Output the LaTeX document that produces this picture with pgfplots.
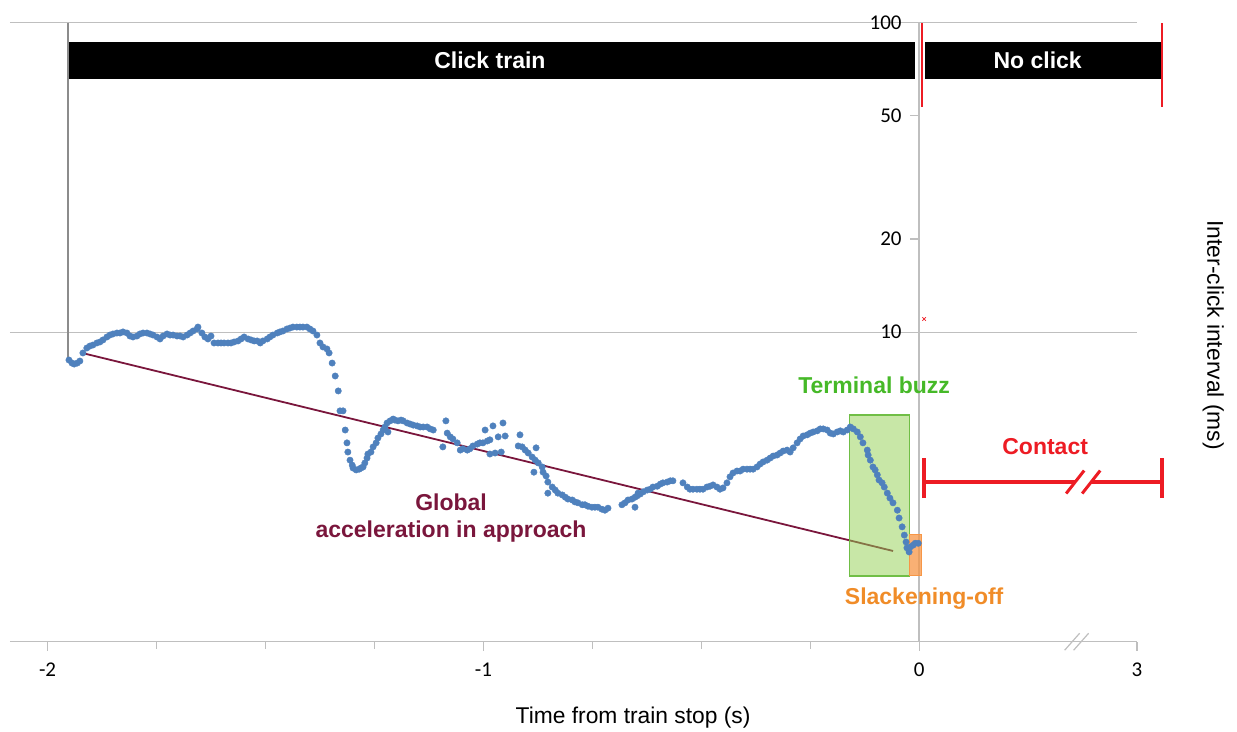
\documentclass[border=0pt]{standalone}
\usepackage{pgfplots}
\pgfplotsset{compat=1.18}
\usepackage{fontspec}
\setmainfont{Liberation Sans}
\newfontfamily\carlito{Carlito}
\definecolor{dotblue}{RGB}{79,129,189}
\definecolor{gridgray}{RGB}{191,191,191}
\definecolor{linegray}{RGB}{140,140,140}
\definecolor{cred}{RGB}{237,28,36}
\definecolor{maroon}{RGB}{122,22,60}
\definecolor{bgreen}{RGB}{146,208,80}
\definecolor{bgreenline}{RGB}{112,190,70}
\definecolor{tgreen}{RGB}{70,185,40}
\definecolor{borange}{RGB}{247,150,70}
\definecolor{torange}{RGB}{240,140,40}
\begin{document}
\begin{tikzpicture}
\path[use as bounding box] (-10pt,-89.3pt) rectangle (1227pt,641.7pt);
\begin{axis}[
  scale only axis, width=1127pt, height=619pt,
  at={(0pt,0pt)}, anchor=south west,
  xmin=-2.0863, xmax=0.5, ymin=1, ymax=100,
  ymode=log, clip=false,
  axis x line=bottom, axis y line=center,
  axis line style={-, draw=gridgray, line width=1.3pt},
  xtick={-2,-1,0,0.5}, xticklabels={-2,-1,0,3},
  minor xtick={-1.75,-1.5,-1.25,-0.75,-0.5,-0.25},
  ytick={1,10,100}, yticklabels={1,10,100},
  extra y ticks={20,50}, extra y tick labels={20,50},
  extra y tick style={grid=none},
  yminorticks=false,
  ymajorgrids, major grid style={draw=gridgray, line width=1.3pt},
  tick align=outside,
  major tick length=9pt, minor tick length=7pt,
  tick style={draw=gridgray, line width=1.1pt},
  tick label style={font=\carlito\fontsize{21}{25}\selectfont, text=black},
  xticklabel style={yshift=-9pt},
  yticklabel style={xshift=-5pt},
]
% black bars
\fill[black] (axis cs:-1.951,65.8) rectangle (axis cs:-0.0092,86.6);
\fill[black] (axis cs:0.0138,65.8) rectangle (axis cs:0.5577,86.6);
\draw[cred, line width=2.2pt] (axis cs:0.0069,99.6) -- (axis cs:0.0069,53.4);
\draw[cred, line width=2.2pt] (axis cs:0.5577,99.6) -- (axis cs:0.5577,53.4);
\node[text=white, font=\bfseries\fontsize{23}{27}\selectfont] at (axis cs:-0.985,75.5) {Click train};
\node[text=white, font=\bfseries\fontsize{23}{27}\selectfont] at (axis cs:0.272,75.5) {No click};
% gray start line
\draw[linegray, line width=1.6pt] (axis cs:-1.953,100) -- (axis cs:-1.953,8.13);
% data
\addplot[only marks, color=dotblue, mark=*, mark size=3.2pt, mark options={draw=dotblue, fill=dotblue}] coordinates {
(-1.951,8.13)(-1.944,7.95)(-1.939,7.89)(-1.932,7.95)(-1.926,8.07)(-1.919,8.57)(-1.910,8.89)(-1.903,9.02)
(-1.896,9.09)(-1.887,9.23)(-1.880,9.30)(-1.873,9.44)(-1.864,9.65)(-1.857,9.79)(-1.850,9.87)(-1.841,9.94)
(-1.834,9.94)(-1.827,10.02)(-1.818,9.94)(-1.811,9.72)(-1.804,9.65)(-1.795,9.72)(-1.788,9.87)(-1.781,9.94)
(-1.772,9.94)(-1.765,9.87)(-1.758,9.79)(-1.749,9.65)(-1.742,9.51)(-1.735,9.72)(-1.726,9.87)(-1.719,9.79)
(-1.712,9.79)(-1.703,9.72)(-1.696,9.72)(-1.689,9.65)(-1.680,9.79)(-1.673,9.94)(-1.666,10.09)(-1.657,10.24)
(-1.655,10.39)(-1.646,9.94)(-1.639,9.65)(-1.632,9.51)(-1.625,9.72)(-1.618,9.23)(-1.609,9.23)(-1.602,9.23)
(-1.595,9.23)(-1.586,9.23)(-1.579,9.23)(-1.572,9.30)(-1.563,9.37)(-1.556,9.51)(-1.549,9.65)(-1.540,9.51)
(-1.533,9.44)(-1.526,9.37)
(-1.519,9.37)(-1.512,9.23)(-1.506,9.37)(-1.496,9.51)(-1.490,9.65)(-1.483,9.79)(-1.473,9.94)(-1.467,10.02)
(-1.460,10.09)(-1.451,10.24)(-1.444,10.31)(-1.437,10.39)(-1.428,10.39)(-1.421,10.39)(-1.414,10.39)(-1.405,10.39)
(-1.398,10.24)(-1.391,10.09)(-1.382,9.79)(-1.375,9.23)(-1.368,8.96)(-1.359,8.83)(-1.354,8.57)(-1.347,7.95)
(-1.340,7.22)(-1.333,6.46)(-1.329,5.57)(-1.322,5.57)(-1.317,4.83)(-1.313,4.39)(-1.311,4.10)(-1.306,3.86)
(-1.301,3.72)(-1.299,3.64)(-1.292,3.59)(-1.285,3.61)(-1.281,3.64)(-1.276,3.67)(-1.272,3.78)(-1.267,3.92)
(-1.265,4.04)(-1.258,4.10)(-1.253,4.26)(-1.246,4.39)(-1.242,4.55)(-1.235,4.69)(-1.230,4.83)(-1.226,4.94)
(-1.221,5.09)(-1.219,4.76)(-1.214,5.17)(-1.207,5.24)(-1.203,5.20)(-1.196,5.17)(-1.189,5.20)(-1.184,5.17)
(-1.175,5.09)(-1.168,5.05)(-1.161,5.01)(-1.152,4.98)(-1.145,4.94)(-1.138,4.94)(-1.129,4.94)(-1.122,4.87)
(-1.115,4.83)
(-1.093,4.26)(-1.086,5.17)(-1.083,4.72)(-1.076,4.59)(-1.070,4.52)(-1.060,4.39)(-1.053,4.16)(-1.047,4.20)
(-1.037,4.16)(-1.031,4.20)(-1.024,4.29)(-1.014,4.35)(-1.008,4.39)(-1.001,4.39)(-0.996,4.83)(-0.991,4.45)
(-0.985,4.49)(-0.985,4.04)(-0.978,4.98)(-0.973,4.07)(-0.966,4.59)(-0.959,4.10)(-0.955,5.09)(-0.950,4.62)
(-0.920,4.29)(-0.916,4.66)(-0.911,4.26)(-0.904,4.16)(-0.897,4.07)(-0.888,3.95)(-0.884,3.53)(-0.881,3.86)
(-0.879,4.23)(-0.874,3.78)(-0.865,3.67)(-0.863,3.53)(-0.856,3.43)(-0.852,3.28)(-0.852,3.02)(-0.842,3.16)
(-0.835,3.09)(-0.829,3.02)(-0.819,2.98)(-0.812,2.93)(-0.806,2.89)(-0.796,2.87)(-0.790,2.83)(-0.783,2.81)
(-0.773,2.77)(-0.767,2.77)(-0.760,2.74)(-0.751,2.72)(-0.744,2.72)(-0.737,2.72)(-0.728,2.68)(-0.721,2.66)
(-0.714,2.70)(-0.682,2.77)(-0.675,2.81)(-0.668,2.87)(-0.659,2.89)(-0.652,2.93)(-0.652,2.72)(-0.647,2.96)
(-0.645,3.02)(-0.640,3.00)(-0.633,3.05)(-0.624,3.09)(-0.617,3.11)(-0.611,3.16)(-0.601,3.18)(-0.594,3.23)
(-0.588,3.26)(-0.578,3.28)(-0.571,3.31)(-0.565,3.31)(-0.542,3.26)(-0.532,3.16)(-0.526,3.11)(-0.519,3.11)
(-0.510,3.11)(-0.503,3.11)(-0.496,3.11)(-0.487,3.16)(-0.480,3.18)(-0.473,3.21)(-0.464,3.16)(-0.457,3.11)
(-0.450,3.14)(-0.441,3.26)(-0.434,3.41)(-0.427,3.51)(-0.418,3.56)(-0.411,3.56)(-0.404,3.61)(-0.395,3.61)
(-0.388,3.61)(-0.381,3.61)(-0.372,3.67)(-0.365,3.75)(-0.358,3.81)(-0.349,3.86)(-0.342,3.92)(-0.335,3.98)
(-0.326,4.01)(-0.319,4.07)(-0.312,4.13)(-0.303,4.16)(-0.296,4.10)(-0.289,4.23)(-0.280,4.39)(-0.273,4.52)
(-0.266,4.62)(-0.257,4.66)(-0.250,4.72)(-0.243,4.76)(-0.234,4.80)(-0.227,4.87)(-0.220,4.87)(-0.211,4.83)
(-0.204,4.72)(-0.197,4.69)(-0.188,4.76)(-0.181,4.80)(-0.174,4.76)(-0.165,4.83)(-0.158,4.94)(-0.151,4.87)
(-0.142,4.76)(-0.135,4.59)(-0.129,4.39)(-0.119,4.16)(-0.117,4.01)(-0.112,3.86)(-0.106,3.67)(-0.101,3.59)
(-0.096,3.46)(-0.092,3.33)(-0.085,3.26)(-0.080,3.16)(-0.073,3.02)(-0.067,2.91)(-0.060,2.81)(-0.050,2.66)
(-0.046,2.51)(-0.039,2.35)(-0.034,2.21)(-0.030,2.10)(-0.028,2.01)(-0.023,1.95)(-0.021,2.02)(-0.014,2.05)
(-0.009,2.08)(-0.002,2.08)
};
% trend line
\addplot[maroon, line width=1.8pt] coordinates {(-1.921,8.57)(-0.0597,1.964)};
% highlight boxes
\filldraw[draw=bgreenline, line width=1.2pt, fill=bgreen, fill opacity=0.5] (axis cs:-0.1607,1.631) rectangle (axis cs:-0.0230,5.40);
\filldraw[draw=borange, line width=1pt, fill=borange, fill opacity=0.75] (axis cs:-0.0230,1.631) rectangle (axis cs:0.0046,2.228);
% red x
\addplot[only marks, mark=x, mark size=2.5pt, cred, line width=0.6pt] coordinates {(0.0115,11.03)};
% contact
\draw[cred, line width=3.5pt] (axis cs:0.0115,3.28) -- (axis cs:0.358,3.28);
\draw[cred, line width=3.5pt] (axis cs:0.3948,3.28) -- (axis cs:0.5577,3.28);
\draw[cred, line width=3.5pt] (axis cs:0.0115,2.91) -- (axis cs:0.0115,3.92);
\draw[cred, line width=3.5pt] (axis cs:0.5577,2.91) -- (axis cs:0.5577,3.92);
\draw[cred, line width=3pt] (axis cs:0.358,3.28) ++(-9pt,-11.5pt) -- ++(18pt,23pt);
\draw[cred, line width=3pt] (axis cs:0.3948,3.28) ++(-9pt,-11.5pt) -- ++(18pt,23pt);
% axis break marks
\draw[gridgray, line width=1.2pt] (axis cs:0.3512,1) ++(-7.5pt,-8.5pt) -- ++(15pt,17pt);
\draw[gridgray, line width=1.2pt] (axis cs:0.3718,1) ++(-7.5pt,-8.5pt) -- ++(15pt,17pt);
% labels
\node[text=tgreen, font=\bfseries\fontsize{23}{27}\selectfont] at (axis cs:-0.1033,6.75) {Terminal buzz};
\node[text=torange, font=\bfseries\fontsize{23}{27}\selectfont] at (axis cs:0.0115,1.374) {Slackening-off};
\node[text=cred, font=\bfseries\fontsize{23}{27}\selectfont] at (axis cs:0.2892,4.26) {Contact};
\node[text=maroon, align=center, font=\bfseries\fontsize{23}{26.5}\selectfont] at (axis cs:-1.0741,2.51) {Global\\acceleration in approach};
\node[font=\fontsize{22.8}{26}\selectfont, yshift=-76.3pt] at (axis cs:-0.6564,1) {Time from train stop (s)};
\node[rotate=-90, font=\fontsize{22.8}{26}\selectfont] at (axis cs:0.6748,9.79) {Inter-click interval (ms)};
\end{axis}
\end{tikzpicture}
\end{document}
